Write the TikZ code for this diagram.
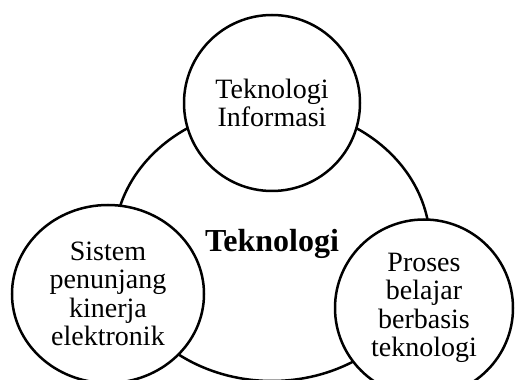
\documentclass[tikz,border=0pt]{standalone}
\usepackage{fontspec}
\setmainfont{Liberation Serif}
\usepackage{tikz}
\usetikzlibrary{shapes.geometric,positioning}

\begin{document}
\begin{tikzpicture}[x=1pt, y=1pt, line width=2.5pt,
        bigblob/.style={draw, ellipse, inner sep=0pt, minimum width=316pt, minimum height=274pt, font=\fontsize{32}{34}\selectfont\bfseries},
        part/.style={draw, ellipse, fill=white, inner sep=0pt, align=center, font=\fontsize{28}{28.5}\selectfont}]
        \useasboundingbox (0,0) rectangle (515,380);
        \node (tech) [bigblob] at (272,136) {Teknologi};

        \node (info) [part, minimum width=176pt, minimum height=176pt] at (272,277) {Teknologi\\Informasi};
        \node (sistem) [part, minimum width=192pt, minimum height=178pt] at (108,86) {Sistem\\penunjang\\kinerja\\elektronik};
        \node (proses) [part, minimum width=178pt, minimum height=177pt] at (424,72) {Proses\\belajar\\berbasis\\teknologi};
    \end{tikzpicture}
\end{document}
